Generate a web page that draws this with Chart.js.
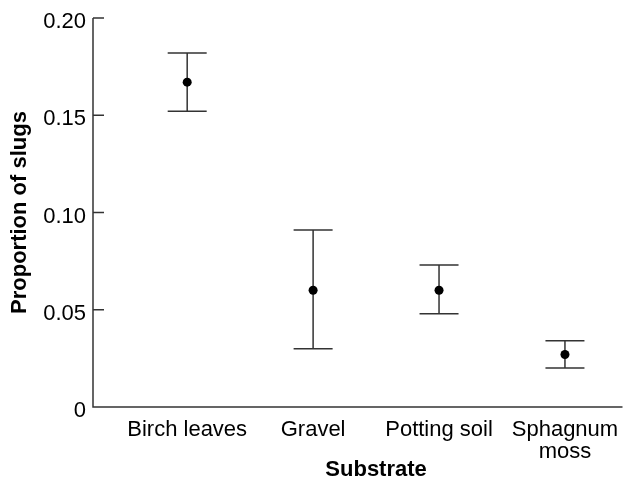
<!DOCTYPE html>
<html>
<head>
<meta charset="utf-8">
<script src="https://cdn.jsdelivr.net/npm/chart.js@4/dist/chart.umd.min.js"></script>
<style>
  html, body { margin: 0; padding: 0; background: #fff; }
  #wrap { width: 627px; height: 481px; }
</style>
</head>
<body>
<div id="wrap"><canvas id="slugChart"></canvas></div>
<script>
// substrate categories and the proportions
const substrates = ["Birch leaves", "Gravel", "Potting soil", ["Sphagnum", "moss"]];
const meanProp = [0.167, 0.060, 0.060, 0.027];
const upperProp = [0.182, 0.091, 0.073, 0.034];
const lowerProp = [0.152, 0.030, 0.048, 0.020];
const yTicks = [0, 0.05, 0.10, 0.15, 0.20];

const ink = "#333";
const fontFam = "'Liberation Sans', Arial, sans-serif";

// error bars, drawn under the points
const errorBars = {
  id: "errorBars",
  beforeDatasetsDraw(chart) {
    const ctx = chart.ctx;
    const xs = chart.scales.x;
    const ys = chart.scales.y;
    ctx.save();
    ctx.strokeStyle = ink;
    ctx.lineWidth = 1.5;
    for (let i = 0; i < meanProp.length; i++) {
      const px = xs.getPixelForValue(i);
      const top = ys.getPixelForValue(upperProp[i]);
      const bot = ys.getPixelForValue(lowerProp[i]);
      ctx.beginPath();
      ctx.moveTo(px, top); ctx.lineTo(px, bot);
      ctx.moveTo(px - 19.5, top); ctx.lineTo(px + 19.5, top);
      ctx.moveTo(px - 19.5, bot); ctx.lineTo(px + 19.5, bot);
      ctx.stroke();
    }
    ctx.restore();
  }
};

// L-shaped axes with inward y ticks; x title centred over the categories
const axisExtras = {
  id: "axisExtras",
  afterDraw(chart) {
    const xs = chart.scales.x;
    const ys = chart.scales.y;
    const ctx = chart.ctx;
    const { left, right, top, bottom } = chart.chartArea;
    ctx.save();
    ctx.strokeStyle = ink;
    ctx.lineWidth = 1.5;
    ctx.beginPath();
    ctx.moveTo(left, top);
    ctx.lineTo(left, bottom);
    ctx.lineTo(right, bottom);
    yTicks.forEach(v => {
      if (v === 0) return;
      const py = ys.getPixelForValue(v);
      ctx.moveTo(left, py); ctx.lineTo(left + 11, py);
    });
    ctx.stroke();
    const mid = (xs.getPixelForValue(0) + xs.getPixelForValue(substrates.length - 1)) / 2;
    ctx.font = "bold 22px " + fontFam;
    ctx.fillStyle = "#000";
    ctx.textAlign = "center";
    ctx.textBaseline = "middle";
    ctx.fillText("Substrate", mid, 470);
    ctx.restore();
  }
};

const points = meanProp.map((v, i) => ({ x: i, y: v }));

new Chart(document.getElementById("slugChart"), {
  type: "scatter",
  data: {
    datasets: [{
      data: points,
      pointRadius: 4.5,
      pointHoverRadius: 4.5,
      pointBackgroundColor: "#000",
      pointBorderColor: "#000",
      pointBorderWidth: 0
    }]
  },
  options: {
    responsive: true,
    maintainAspectRatio: false,
    animation: false,
    layout: { padding: { top: 18, right: 0, left: 0, bottom: 0 } },
    plugins: { legend: { display: false }, tooltip: { enabled: false } },
    scales: {
      x: {
        type: "linear",
        min: -0.748,
        max: 3.457,
        afterBuildTicks(scale) {
          scale.ticks = substrates.map((s, i) => ({ value: i }));
        },
        afterFit(scale) {
          scale.height = 74;
          scale.paddingLeft = 0;
          scale.paddingRight = 0;
        },
        grid: { display: false, drawTicks: false },
        border: { display: false },
        ticks: {
          maxRotation: 0,
          autoSkip: false,
          padding: 12,
          color: "#000",
          font: { family: fontFam, size: 22, lineHeight: 1.0 },
          callback: (v) => substrates[v]
        }
      },
      y: {
        min: 0,
        max: 0.2,
        afterBuildTicks(scale) {
          scale.ticks = yTicks.map(v => ({ value: v }));
        },
        afterFit(scale) {
          scale.width = 93;
          scale.paddingTop = 0;
          scale.paddingBottom = 0;
        },
        grid: { display: false, drawTicks: false },
        border: { display: false },
        ticks: {
          padding: 7,
          color: "#000",
          font: { family: fontFam, size: 22, lineHeight: "8px" },
          callback: (v) => ["", v === 0 ? "0" : v.toFixed(2)]
        },
        title: {
          display: true,
          text: "Proportion of slugs",
          color: "#000",
          padding: { top: 7, bottom: 0 },
          font: { family: fontFam, size: 22, weight: "bold" }
        }
      }
    }
  },
  plugins: [errorBars, axisExtras]
});
</script>
</body>
</html>
